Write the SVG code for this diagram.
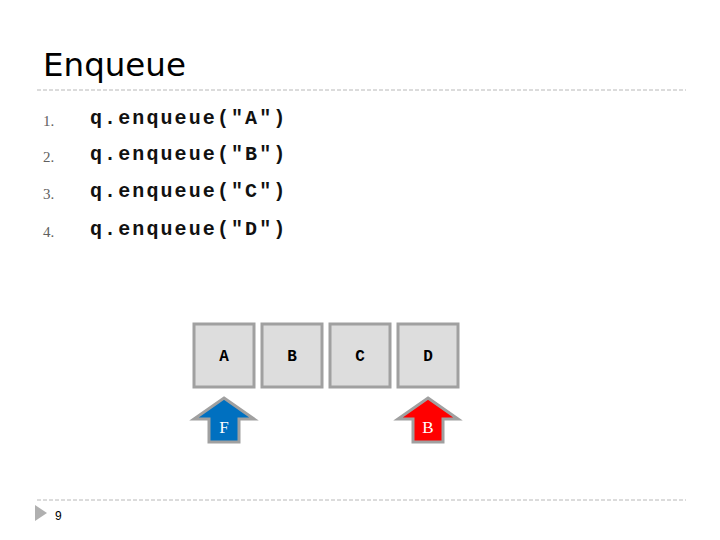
<svg xmlns="http://www.w3.org/2000/svg" width="720" height="540" viewBox="0 0 720 540">
<style>
.title{font-family:"DejaVu Sans","Liberation Sans",sans-serif;font-size:32.5px;fill:#000}
.num{font-family:"Liberation Serif",serif;font-size:15px;fill:#606060}
.code{font-family:"Liberation Mono",monospace;font-size:20px;font-weight:bold;fill:#111;letter-spacing:2.1px}
.box{fill:#dddddd;stroke:#a0a0a0;stroke-width:3}
.bl{font-family:"Liberation Mono",monospace;font-size:16px;font-weight:bold;fill:#000;text-anchor:middle}
.al{font-family:"Liberation Serif",serif;font-size:17px;fill:#fff;text-anchor:middle}
.dash{stroke:#b8b8b8;stroke-width:1;stroke-dasharray:4,2}
</style>
<rect width="720" height="540" fill="#fff"/>
<text class="title" x="43" y="76">Enqueue</text>
<line class="dash" x1="37" y1="90" x2="686" y2="90"/>
<g id="list">
<text class="num" x="43" y="126">1.</text><text class="code" x="90" y="124">q.enqueue("A")</text>
<text class="num" x="43" y="162">2.</text><text class="code" x="90" y="160">q.enqueue("B")</text>
<text class="num" x="43" y="199">3.</text><text class="code" x="90" y="197">q.enqueue("C")</text>
<text class="num" x="43" y="237">4.</text><text class="code" x="90" y="235">q.enqueue("D")</text>
</g>
<g id="nodeA"><rect class="box" x="194" y="324" width="60" height="63"/><text class="bl" x="224" y="361">A</text></g>
<g id="nodeB"><rect class="box" x="262" y="324" width="60" height="63"/><text class="bl" x="292" y="361">B</text></g>
<g id="nodeC"><rect class="box" x="330" y="324" width="60" height="63"/><text class="bl" x="360" y="361">C</text></g>
<g id="nodeD"><rect class="box" x="398" y="324" width="60" height="63"/><text class="bl" x="428" y="361">D</text></g>
<g id="front"><polygon points="224,398 254,419 239,419 239,442 209,442 209,419 194,419" fill="#0070c0" stroke="#a0a0a0" stroke-width="3"/><text class="al" x="224" y="433">F</text></g>
<g id="back"><polygon points="428,398 458,419 443,419 443,442 413,442 413,419 398,419" fill="#ff0000" stroke="#a0a0a0" stroke-width="3"/><text class="al" x="428" y="433">B</text></g>
<line class="dash" x1="37" y1="500" x2="686" y2="500"/>
<polygon points="35,505 47,513 35,521" fill="#b0b0b0"/>
<text x="55" y="520" font-family="Liberation Sans,sans-serif" font-size="12" fill="#000">9</text>
</svg>
